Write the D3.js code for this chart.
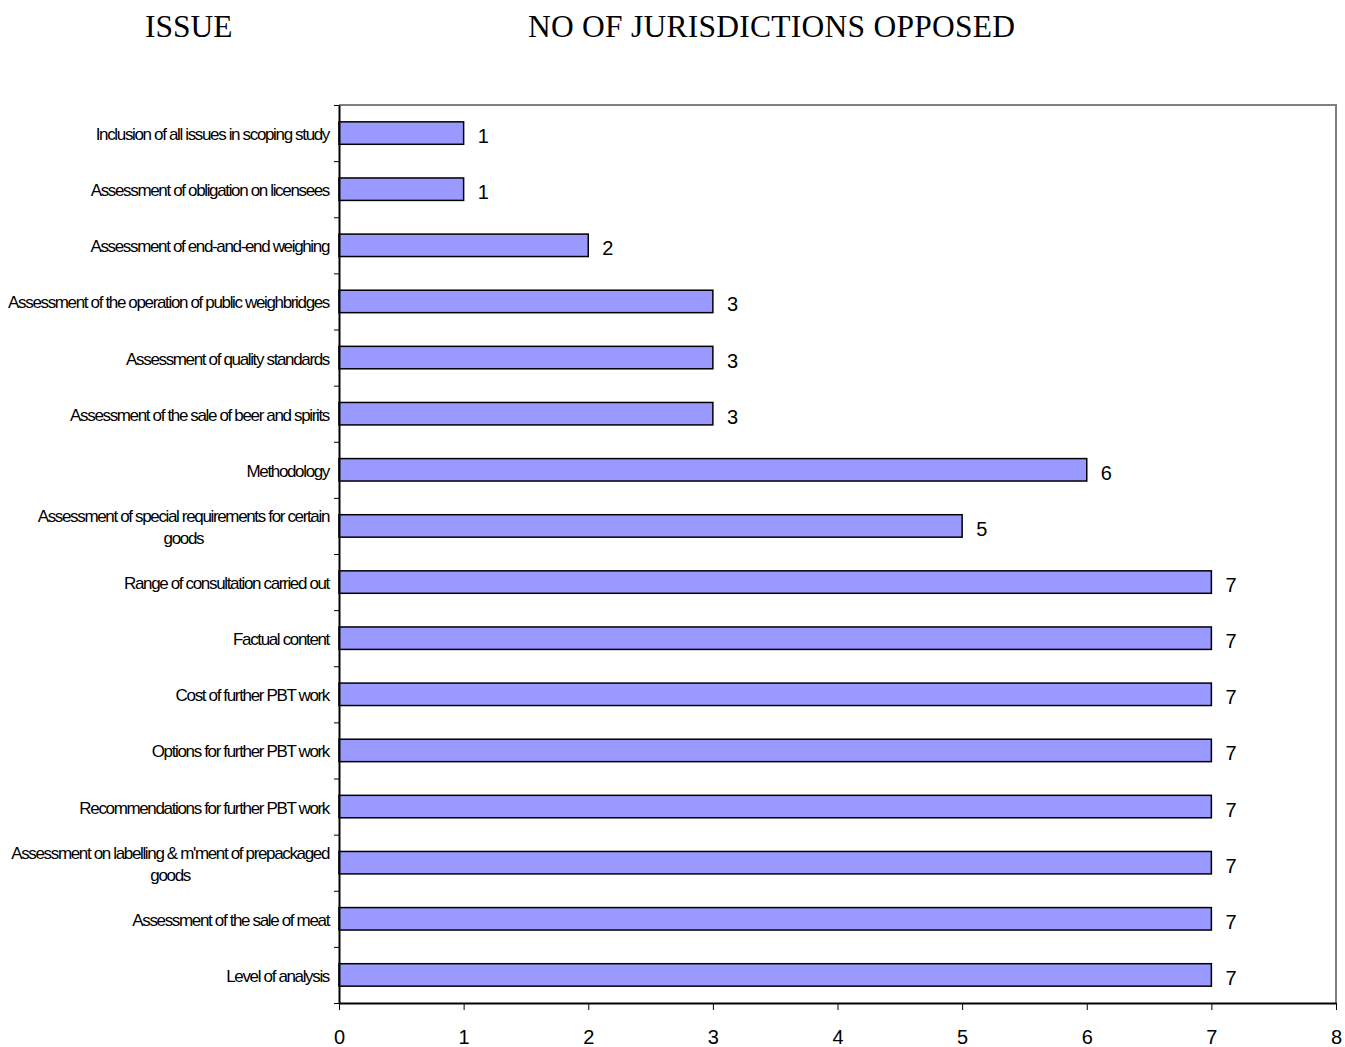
<!DOCTYPE html>
<html>
<head>
<meta charset="utf-8">
<script src="https://cdn.jsdelivr.net/npm/d3@7"></script>
<style>
body{margin:0;background:#fff;}
svg{display:block;}
</style>
</head>
<body>
<svg></svg>
<script>
var width = 1345;
var height = 1047;
// categories top to bottom, long ones split in two lines
var issues = [
  ["Inclusion of all issues in scoping study"],
  ["Assessment of obligation on licensees"],
  ["Assessment of end-and-end weighing"],
  ["Assessment of the operation of public weighbridges"],
  ["Assessment of quality standards"],
  ["Assessment of the sale of beer and spirits"],
  ["Methodology"],
  ["Assessment of special requirements for certain", "goods"],
  ["Range of consultation carried out"],
  ["Factual content"],
  ["Cost of further PBT work"],
  ["Options for further PBT work"],
  ["Recommendations for further PBT work"],
  ["Assessment on labelling & m'ment of prepackaged", "goods"],
  ["Assessment of the sale of meat"],
  ["Level of analysis"]
];
var opposed = [1, 1, 2, 3, 3, 3, 6, 5, 7, 7, 7, 7, 7, 7, 7, 7];
var xTicks = [0, 1, 2, 3, 4, 5, 6, 7, 8];

var plot = {left: 339, right: 1336, top: 105, bottom: 1003};
var sans = "Liberation Sans, Arial, sans-serif";
var serif = "Liberation Serif, Times New Roman, serif";

var svg = d3.select("svg")
    .attr("width", width)
    .attr("height", height);

var xScale = d3.scaleLinear()
    .domain([0, 8])
    .range([plot.left, plot.right]);
var yScale = d3.scaleBand()
    .domain(d3.range(issues.length))
    .range([plot.top, plot.bottom])
    .paddingInner(0.6)
    .paddingOuter(0.3);

// titles
svg.append("text")
    .attr("x", 145).attr("y", 37)
    .style("font-family", serif)
    .style("font-size", "31.5px")
    .text("ISSUE");
svg.append("text")
    .attr("x", 528).attr("y", 37)
    .style("font-family", serif)
    .style("font-size", "31.5px")
    .style("letter-spacing", "0.25px")
    .text("NO OF JURISDICTIONS OPPOSED");

// top and right border (grey)
svg.append("path")
    .attr("d", "M" + plot.left + "," + plot.top + "H" + plot.right + "V" + plot.bottom)
    .attr("fill", "none")
    .attr("stroke", "#808080")
    .attr("stroke-width", 2);

// bars
svg.selectAll("rect.bar")
    .data(opposed)
    .enter()
    .append("rect")
        .attr("class", "bar")
        .attr("x", xScale(0))
        .attr("y", (d, i) => yScale(i))
        .attr("width", d => xScale(d) - xScale(0))
        .attr("height", yScale.bandwidth())
        .attr("fill", "#9999ff")
        .attr("stroke", "#000")
        .attr("stroke-width", 1.5);

// value labels
svg.selectAll("text.val")
    .data(opposed)
    .enter()
    .append("text")
        .attr("class", "val")
        .attr("x", d => xScale(d) + 14)
        .attr("y", (d, i) => yScale(i) + yScale.bandwidth() / 2 + 10)
        .style("font-family", sans)
        .style("font-size", "20px")
        .text(d => d);

// y axis: ticks on band boundaries
var yBound = d3.scaleLinear().domain([0, issues.length]).range([plot.top, plot.bottom]);
var yAxis = d3.axisLeft(yBound)
    .tickValues(d3.range(issues.length + 1))
    .tickSize(5)
    .tickSizeOuter(0)
    .tickFormat("");
var gy = svg.append("g")
    .attr("transform", "translate(" + plot.left + ",0)")
    .call(yAxis);
gy.select(".domain").attr("stroke", "#000").attr("stroke-width", 2);
gy.selectAll(".tick line").attr("stroke", "#000");

// x axis
var xAxis = d3.axisBottom(xScale)
    .tickValues(xTicks)
    .tickSize(7)
    .tickSizeOuter(0)
    .tickPadding(20);
var gx = svg.append("g")
    .attr("transform", "translate(0," + plot.bottom + ")")
    .call(xAxis);
gx.select(".domain").attr("stroke", "#000").attr("stroke-width", 2);
gx.selectAll(".tick line").attr("stroke", "#000");
gx.selectAll(".tick text")
    .attr("fill", "#000")
    .style("font-family", sans)
    .style("font-size", "20px");

// category labels
issues.forEach(function(lines, i) {
    var cy = yScale(i) + yScale.bandwidth() / 2;
    var lineH = 22;
    var y0 = cy - (lines.length - 1) * lineH / 2 + 7;
    var first = svg.append("text")
        .attr("x", 329)
        .attr("y", y0)
        .attr("text-anchor", "end")
        .style("font-family", sans)
        .style("font-size", "17px")
        .style("letter-spacing", "-1.35px")
        .text(lines[0]);
    if (lines.length > 1) {
        var w = first.node().getComputedTextLength();
        svg.append("text")
            .attr("x", 329 - w / 2)
            .attr("y", y0 + lineH)
            .attr("text-anchor", "middle")
            .style("font-family", sans)
            .style("font-size", "17px")
            .style("letter-spacing", "-1.35px")
            .text(lines[1]);
    }
});
</script>
</body>
</html>
